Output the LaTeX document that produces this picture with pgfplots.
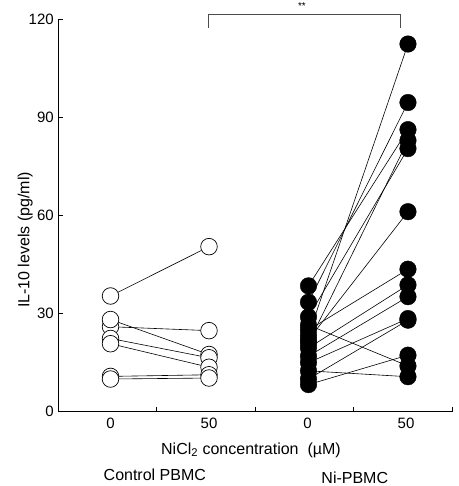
\documentclass[border=0pt]{standalone}
\usepackage{fontspec}
\setmainfont{Liberation Sans}
\usepackage{pgfplots}
\pgfplotsset{compat=1.18}
\begin{document}
\begin{tikzpicture}
\begin{axis}[
  scale only axis, width=394pt, height=392.2pt,
  xmin=0, xmax=4, ymin=0, ymax=120,
  axis x line*=bottom, axis y line*=left,
  axis line style={line width=0.8pt},
  clip=false,
  ytick={0,30,60,90,120},
  xtick={1,2,3,4}, xticklabels={},
  tick align=inside,
  major tick length=5pt,
  tick style={line width=0.7pt, black},
  extra x ticks={0.53,1.53,2.53,3.53},
  extra x tick labels={0,50,0,50},
  extra x tick style={major tick length=0pt},
  tick label style={font=\fontsize{15}{17}\selectfont},
  xticklabel style={yshift=-3pt},
  yticklabel style={xshift=-1pt},
  label style={font=\fontsize{16}{18}\selectfont},
  /pgf/number format/assume math mode=true,
  ylabel={IL-10 levels (pg/ml)},
  ylabel style={at={(axis description cs:0,0.438)}, anchor=center, yshift=33pt},
  xlabel={NiCl\textsubscript{2} concentration\ \ (µM)},
  xlabel style={at={(axis description cs:0.489,0)}, anchor=center, yshift=-38.3pt},
]
% control lines
\addplot[no marks, black, line width=0.6pt] coordinates {(0.53,35.4)(1.53,50.5)};
\addplot[no marks, black, line width=0.6pt] coordinates {(0.53,26.0)(1.53,24.8)};
\addplot[no marks, black, line width=0.6pt] coordinates {(0.53,28.2)(1.53,17.5)};
\addplot[no marks, black, line width=0.6pt] coordinates {(0.53,22.4)(1.53,16.5)};
\addplot[no marks, black, line width=0.6pt] coordinates {(0.53,20.8)(1.53,13.6)};
\addplot[no marks, black, line width=0.6pt] coordinates {(0.53,10.8)(1.53,11.3)};
\addplot[no marks, black, line width=0.6pt] coordinates {(0.53,10.0)(1.53,10.3)};
% Ni lines
\addplot[no marks, black, line width=0.6pt] coordinates {(2.54,38.5)(3.55,86.3)};
\addplot[no marks, black, line width=0.6pt] coordinates {(2.54,33.5)(3.55,94.6)};
\addplot[no marks, black, line width=0.6pt] coordinates {(2.54,29.0)(3.55,80.5)};
\addplot[no marks, black, line width=0.6pt] coordinates {(2.54,26.5)(3.55,14.0)};
\addplot[no marks, black, line width=0.6pt] coordinates {(2.54,25.0)(3.55,43.6)};
\addplot[no marks, black, line width=0.6pt] coordinates {(2.54,23.4)(3.55,112.5)};
\addplot[no marks, black, line width=0.6pt] coordinates {(2.54,22.0)(3.55,61.2)};
\addplot[no marks, black, line width=0.6pt] coordinates {(2.54,21.0)(3.55,83.0)};
\addplot[no marks, black, line width=0.6pt] coordinates {(2.54,19.5)(3.55,38.8)};
\addplot[no marks, black, line width=0.6pt] coordinates {(2.54,17.0)(3.55,35.2)};
\addplot[no marks, black, line width=0.6pt] coordinates {(2.54,15.0)(3.55,28.5)};
\addplot[no marks, black, line width=0.6pt] coordinates {(2.54,12.5)(3.55,10.7)};
\addplot[no marks, black, line width=0.6pt] coordinates {(2.54,10.0)(3.55,28.0)};
\addplot[no marks, black, line width=0.6pt] coordinates {(2.54,8.3)(3.55,17.3)};
% control marks
\addplot[only marks, mark=*, mark size=8.3pt, mark options={fill=white, draw=black, line width=0.7pt}] coordinates {
(0.53,35.4)(0.53,26.0)(0.53,28.2)(0.53,22.4)(0.53,20.8)(0.53,10.8)(0.53,10.0)
(1.53,50.5)(1.53,24.8)(1.53,17.5)(1.53,16.5)(1.53,13.6)(1.53,11.3)(1.53,10.3)};
% Ni marks
\addplot[only marks, mark=*, mark size=8.3pt, mark options={fill=black, draw=black}] coordinates {
(2.54,38.5)(2.54,33.5)(2.54,29.0)(2.54,26.5)(2.54,25.0)(2.54,23.4)(2.54,22.0)
(2.54,21.0)(2.54,19.5)(2.54,17.0)(2.54,15.0)(2.54,12.5)(2.54,10.0)(2.54,8.3)
(3.55,86.3)(3.55,94.6)(3.55,80.5)(3.55,14.0)(3.55,43.6)(3.55,112.5)(3.55,61.2)
(3.55,83.0)(3.55,38.8)(3.55,35.2)(3.55,28.5)(3.55,10.7)(3.55,28.0)(3.55,17.3)};
% significance bracket
\addplot[no marks, black!70, line width=0.8pt] coordinates {(1.523,117.4)(1.523,121.7)(3.476,121.7)(3.476,117.4)};
\node[font=\fontsize{10}{12}\selectfont] at (axis cs:2.474,124.0) {**};
\node[font=\fontsize{16}{18}\selectfont] at (axis cs:0.98,0) [yshift=-63.3pt] {Control PBMC};
\node[font=\fontsize{16}{18}\selectfont] at (axis cs:3.01,0) [yshift=-66.3pt] {Ni-PBMC};
\end{axis}
\pgfresetboundingbox
\useasboundingbox (-58.3pt,-74.3pt) rectangle (399.7pt,411.7pt);
\end{tikzpicture}
\end{document}
